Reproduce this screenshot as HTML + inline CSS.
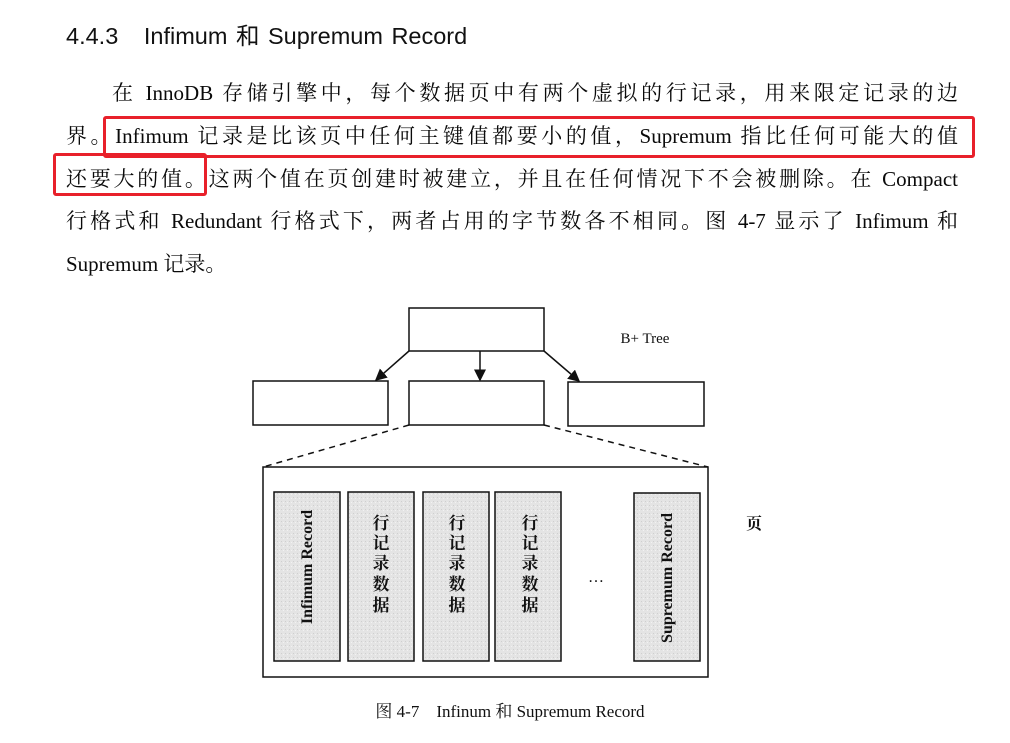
<!DOCTYPE html>
<html><head><meta charset="utf-8"><style>
body{margin:0;width:1010px;height:743px;background:#fff;position:relative;overflow:hidden;font-family:"Liberation Serif","Noto Serif CJK SC",serif;color:#111}
.t{position:absolute;left:66px;top:17px;font:23.5px "Liberation Sans","Noto Sans CJK SC",sans-serif;color:#111;word-spacing:2px}
.l{position:absolute;font-size:21px;line-height:26px;white-space:nowrap;text-align:justify;text-align-last:justify;color:#0a0a0a}
.r{position:absolute;border:3px solid #e8202a;border-radius:3px}
</style></head><body>
<div class="t">4.4.3&nbsp;&nbsp;&nbsp;Infimum 和 Supremum Record</div>
<div class="l" style="left:112px;top:80px;width:846px">在 InnoDB 存储引擎中，每个数据页中有两个虚拟的行记录，用来限定记录的边</div>
<div class="l" style="left:66px;top:123px;width:892px">界。Infimum 记录是比该页中任何主键值都要小的值，Supremum 指比任何可能大的值</div>
<div class="l" style="left:66px;top:166px;width:892px">还要大的值。这两个值在页创建时被建立，并且在任何情况下不会被删除。在 Compact</div>
<div class="l" style="left:66px;top:208px;width:892px">行格式和 Redundant 行格式下，两者占用的字节数各不相同。图 4-7 显示了 Infimum 和</div>
<div class="l" style="left:66px;top:251px;text-align-last:left">Supremum 记录。</div>
<div class="r" style="left:103px;top:116px;width:866px;height:36px"></div>
<div class="r" style="left:53px;top:153px;width:148px;height:37px"></div>
<svg style="position:absolute;left:0;top:0" width="1010" height="743">
<defs><marker id="a" markerWidth="8" markerHeight="8" refX="7" refY="4" orient="auto"><path d="M0,0L8,4L0,8z" fill="#111"/></marker>
<pattern id="g" width="4" height="4" patternUnits="userSpaceOnUse"><rect width="4" height="4" fill="#e4e4e4"/><rect x="1" y="1" width="1" height="1" fill="#cfcfcf"/><rect x="3" y="2" width="1" height="1" fill="#f2f2f2"/></pattern></defs>
<g fill="none" stroke="#111" stroke-width="1.5">
<rect x="409" y="308" width="135" height="43"/>
<rect x="253" y="381" width="135" height="44"/>
<rect x="409" y="381" width="135" height="44"/>
<rect x="568" y="382" width="136" height="44"/>
<line x1="409" y1="351" x2="376" y2="380" marker-end="url(#a)"/>
<line x1="480" y1="351" x2="480" y2="380" marker-end="url(#a)"/>
<line x1="544" y1="351" x2="579" y2="381" marker-end="url(#a)"/>
<line x1="409" y1="425" x2="263" y2="467" stroke-dasharray="6,5"/>
<line x1="544" y1="425" x2="708" y2="467" stroke-dasharray="6,5"/>
<rect x="263" y="467" width="445" height="210"/>
</g>
<g fill="url(#g)" stroke="#111" stroke-width="1.5">
<rect x="274" y="492" width="66" height="169"/>
<rect x="348" y="492" width="66" height="169"/>
<rect x="423" y="492" width="66" height="169"/>
<rect x="495" y="492" width="66" height="169"/>
<rect x="634" y="493" width="66" height="168"/>
</g>
<g font-family="Liberation Serif,Noto Serif CJK SC,serif" fill="#111" font-weight="bold">
<text x="645" y="343" font-size="15" font-weight="normal" text-anchor="middle">B+ Tree</text>
<text transform="translate(312,567) rotate(-90)" font-size="16" text-anchor="middle">Infimum Record</text>
<text transform="translate(672,578) rotate(-90)" font-size="16" text-anchor="middle">Supremum Record</text>
<g font-size="17" text-anchor="middle">
<text x="381" y="529">行</text><text x="381" y="549">记</text><text x="381" y="569">录</text><text x="381" y="590">数</text><text x="381" y="611">据</text>
<text x="457" y="529">行</text><text x="457" y="549">记</text><text x="457" y="569">录</text><text x="457" y="590">数</text><text x="457" y="611">据</text>
<text x="530" y="529">行</text><text x="530" y="549">记</text><text x="530" y="569">录</text><text x="530" y="590">数</text><text x="530" y="611">据</text>
</g>
<text x="596" y="582" font-size="16" font-weight="normal" text-anchor="middle">…</text>
<text x="754" y="529" font-size="16" text-anchor="middle">页</text>
<text x="510" y="717" font-size="17" font-weight="normal" text-anchor="middle">图 4-7　Infinum 和 Supremum Record</text>
</g>
</svg>
</body></html>
